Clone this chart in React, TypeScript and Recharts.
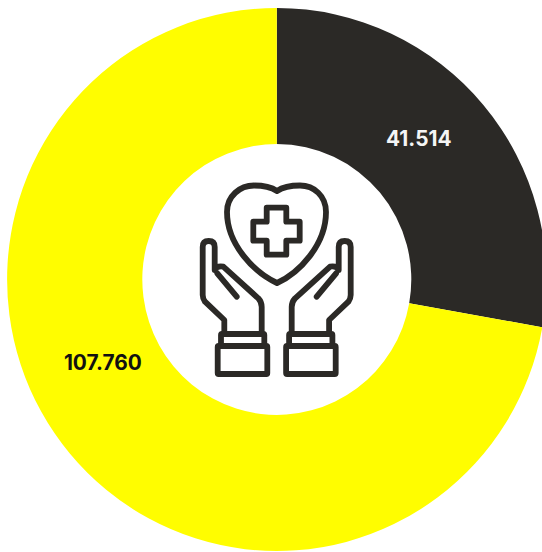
import { Pie, PieChart, Cell } from "recharts"

const categories = ["Dark share", "Yellow share"]
const values = [41514, 107760]
const colors = ["#2B2926", "#FFFD00"]
const labelColors = ["#F5F5F5", "#111111"]

const data = categories.map((name, i) => ({ name, value: values[i] }))

// labels don't sit on the slice mid angle in the original, so nudge them
const labelOffsets = [
    { dx: 142, dy: -140.5 },
    { dx: -174, dy: 82 },
]

function renderLabel(props: any) {
    const { cx, cy, index, value } = props
    const offset = labelOffsets[index]
    return (
        <text
            x={cx + offset.dx}
            y={cy + offset.dy}
            fill={labelColors[index]}
            textAnchor="middle"
            dominantBaseline="central"
            style={{ fontFamily: "Inter", fontWeight: 700, fontSize: 20.8 }}
        >
            {value.toLocaleString("de-DE")}
        </text>
    )
}

function Hand() {
    return (
        <g>
            <path d="M224.3 333 L224.3 320 L205 301.7 Q202.7 298.5 202.7 295 L202.7 247 Q202.7 241 208.7 241 Q214.7 241 214.7 247 L214.7 270 Q217 265.5 223.3 266.7 L258.3 298.3 Q261.7 302 261.7 307 L261.7 333" />
            <path d="M217.3 273.3 L236.7 296.7" />
            <rect x={221} y={334} width={43.3} height={12} rx={1} />
            <rect x={217.7} y={346} width={49.6} height={28} rx={1} />
        </g>
    )
}

function CareIcon() {
    return (
        <svg
            width={542}
            height={552}
            style={{ position: "absolute", left: 0, top: 0, pointerEvents: "none" }}
        >
            <g fill="none" stroke="#2B2926" strokeWidth={5.8} strokeLinecap="round" strokeLinejoin="round">
                <path d="M277 283 C255 273 227 245 227 212 C227 196 240 185.5 254 185.5 C263 185.5 271 187 277 191 C283 187 291 185.5 300 185.5 C314 185.5 326 196 326 212 C326 245 299 273 277 283 Z" />
                <path d="M266.7 207.7 H286.3 V221.7 H299.7 V240.7 H286.3 V254.7 H266.7 V240.7 H253.3 V221.7 H266.7 Z" />
                <Hand />
                <g transform="translate(553.4,0) scale(-1,1)">
                    <Hand />
                </g>
            </g>
        </svg>
    )
}

export default function App() {
    return (
        <div style={{ position: "absolute", left: 0, top: 0, width: 542, height: 552, overflow: "hidden", background: "#fff" }}>
            {/* the original ring is a touch taller than wide */}
            <div style={{ transform: "scaleY(1.0068)", transformOrigin: "277px 279.5px" }}>
                <PieChart width={542} height={552} margin={{ top: 0, right: 0, bottom: 0, left: 0 }}>
                    <Pie
                        data={data}
                        dataKey="value"
                        nameKey="name"
                        cx={276.8}
                        cy={279.5}
                        innerRadius={134.5}
                        outerRadius={269.7}
                        startAngle={90}
                        endAngle={-270}
                        stroke="none"
                        label={renderLabel}
                        labelLine={false}
                        isAnimationActive={false}
                    >
                        {data.map((d, i) => (
                            <Cell key={d.name} fill={colors[i]} />
                        ))}
                    </Pie>
                </PieChart>
            </div>
            <CareIcon />
        </div>
    )
}
